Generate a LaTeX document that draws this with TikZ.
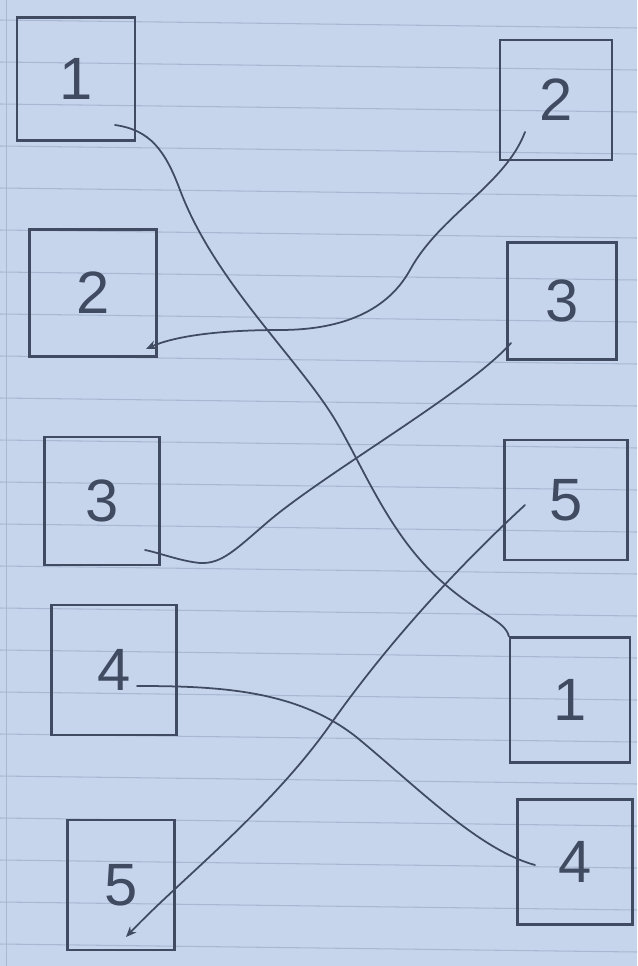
\documentclass[tikz,border=0pt]{standalone}
\usepackage{fontspec}
\setmainfont{Liberation Sans}
\usetikzlibrary{arrows.meta}
\definecolor{paper}{RGB}{198,213,236}
\definecolor{ruleline}{RGB}{168,184,210}
\definecolor{ink}{RGB}{64,74,96}
\begin{document}
\begin{tikzpicture}[x=0.02cm,y=-0.02cm,
  box/.style n args={2}{draw=ink, line width=1.3pt, inner sep=0pt,
    minimum width={#1*0.02cm}, minimum height={#2*0.02cm},
    text=ink, font=\fontsize{34}{34}\selectfont},
  wire/.style={draw=ink, line width=1pt, line cap=round},
  tip/.style={-{Stealth[length=6pt,width=5pt]}}]
\fill[paper] (0,0) rectangle (637,966);
\useasboundingbox (0,0) rectangle (637,966);
\foreach \y in {20,62,...,966} \draw[ruleline, line width=0.6pt] (0,\y) -- (637,\y+8);
\draw[ruleline, line width=0.5pt] (6,0) -- (6,966);
% left column
\node[box={118}{123}] (L1) at (76,79) {1};
\node[box={127}{127}] (L2) at (93,293) {2};
\node[box={115}{128}] (L3) at (102,501) {3};
\node[box={125}{130}] (L4) at (114,670) {4};
\node[box={107}{130}] (L5) at (121,885) {5};
% right column
\node[box={112}{120}] (R2) at (556,100) {2};
\node[box={109}{117}] (R3) at (562,301) {3};
\node[box={123}{120}] (R5) at (566,500) {5};
\node[box={120}{125}] (R1) at (570,700) {1};
\node[box={115}{125}] (R4) at (575,862) {4};
% connector ends
\coordinate (a1) at (115,125);
\coordinate (a2) at (R1.north west);
\coordinate (b1) at (525,132);
\coordinate (b2) at (146,349);
\coordinate (c1) at (511,343);
\coordinate (c2) at (145,550);
\coordinate (d1) at (525,505);
\coordinate (d2) at (126,937);
\coordinate (e1) at (137,686);
\coordinate (e2) at (535,865);
% connectors
\draw[wire] (a1) .. controls (150,130) and (165,150) .. (180,190)
  .. controls (215,283) and (300,360) .. (337,423)
  .. controls (365,471) and (390,535) .. (440,580)
  .. controls (480,616) and (505,620) .. (a2);
\draw[wire, tip] (b1) .. controls (505,185) and (440,215) .. (410,270)
  .. controls (385,315) and (335,330) .. (280,330)
  .. controls (220,330) and (175,336) .. (b2);
\draw[wire] (c1) .. controls (470,390) and (330,470) .. (270,520)
  .. controls (235,550) and (222,564) .. (200,563)
  .. controls (180,561) and (160,553) .. (c2);
\draw[wire, tip] (d1) .. controls (460,565) and (390,640) .. (330,725)
  .. controls (270,810) and (180,880) .. (d2);
\draw[wire] (e1) .. controls (220,686) and (300,690) .. (360,740)
  .. controls (420,790) and (480,850) .. (e2);
\end{tikzpicture}
\end{document}
